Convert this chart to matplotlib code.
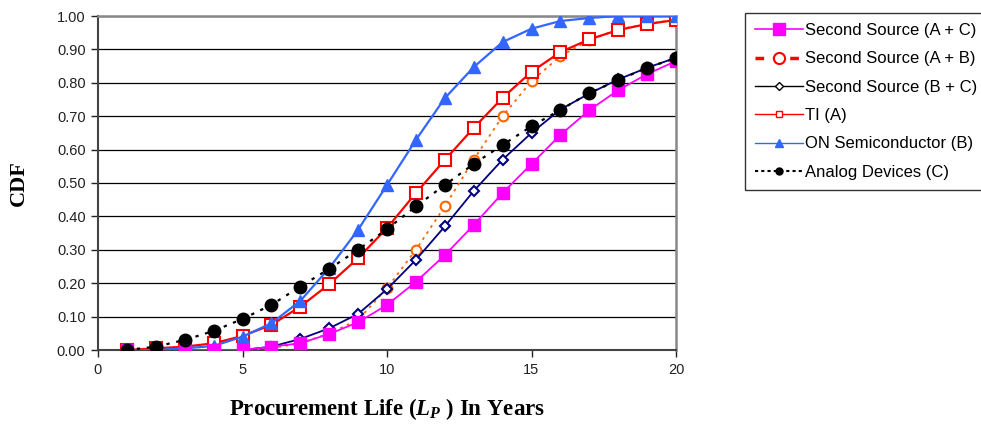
import matplotlib
matplotlib.use("Agg")
import matplotlib.pyplot as plt
from matplotlib.lines import Line2D
from matplotlib.ticker import FormatStrFormatter

plt.rcParams['font.family'] = ['Liberation Sans', 'DejaVu Sans']
plt.rcParams['mathtext.fontset'] = 'custom'
plt.rcParams['mathtext.it'] = 'Liberation Serif:bold:italic'
plt.rcParams['mathtext.rm'] = 'Liberation Serif:bold'

years = list(range(1, 21))
ss_ac = [0, 0, 0, 0, 0, 0.01, 0.02, 0.048, 0.083, 0.135, 0.204, 0.284, 0.374, 0.47, 0.557, 0.644, 0.718, 0.778, 0.826, 0.865]
ss_ab = [0, 0, 0, 0, 0, 0.005, 0.02, 0.05, 0.09, 0.185, 0.30, 0.43, 0.57, 0.70, 0.805, 0.88, 0.928, 0.96, 0.976, 0.99]
ss_bc = [0, 0, 0, 0, 0, 0.01, 0.033, 0.065, 0.108, 0.182, 0.27, 0.37, 0.476, 0.57, 0.65, 0.72, 0.768, 0.81, 0.845, 0.875]
ti_a = [0, 0.005, 0.01, 0.02, 0.042, 0.075, 0.13, 0.197, 0.275, 0.365, 0.47, 0.569, 0.665, 0.755, 0.833, 0.892, 0.93, 0.958, 0.976, 0.988]
on_b = [0, 0, 0.005, 0.012, 0.04, 0.08, 0.147, 0.245, 0.36, 0.494, 0.629, 0.754, 0.847, 0.922, 0.962, 0.985, 0.994, 1.0, 1.0, 1.0]
ad_c = [0, 0.01, 0.03, 0.057, 0.093, 0.135, 0.19, 0.243, 0.30, 0.362, 0.43, 0.494, 0.557, 0.614, 0.67, 0.719, 0.769, 0.808, 0.845, 0.874]

labels = ["Second Source (A + C)", "Second Source (A + B)", "Second Source (B + C)",
          "TI (A)", "ON Semiconductor (B)", "Analog Devices (C)"]
xticks = [0, 5, 10, 15, 20]
yticks = [0.0, 0.1, 0.2, 0.3, 0.4, 0.5, 0.6, 0.7, 0.8, 0.9, 1.0]

fig = plt.figure(figsize=(9.81, 4.28), dpi=100)
ax = fig.add_axes([98/981, 1-350/428, (676-98)/981, (350-16)/428])

ax.plot(years, ss_ab, color='#FF6600', ls=(0, (1.5, 2.5)), lw=1.3, marker='o', ms=7,
        mfc='white', mec='#FF6600', mew=1.5, zorder=3)
ax.plot(years, ti_a, color='#FF0000', lw=1.6, marker='s', ms=8, mfc='white',
        mec='#FF0000', mew=1.5, zorder=4)
ax.plot(years, on_b, color='#3366FF', lw=1.6, marker='^', ms=8, mfc='#3366FF',
        mec='#3366FF', zorder=5)
ax.plot(years, ss_bc, color='#000080', lw=1.3, marker='D', ms=5, mfc='white',
        mec='#000080', mew=1.5, zorder=6)
ax.plot(years, ss_ac, color='#FF00FF', lw=1.3, marker='s', ms=8, mfc='#FF00FF',
        mec='#FF00FF', zorder=7)
ax.plot(years, ad_c, color='black', ls=(0, (1.5, 3)), lw=1.6, marker='o', ms=9,
        mfc='black', mec='black', zorder=8)

ax.set_xlim(0, 20)
ax.set_ylim(0, 1.0)
ax.set_xticks(xticks)
ax.set_yticks(yticks)
ax.yaxis.set_major_formatter(FormatStrFormatter('%.2f'))
ax.yaxis.grid(True, color='black', lw=0.9)
ax.set_axisbelow(True)
ax.tick_params(axis='both', direction='out', length=5, width=1, labelsize=10.5,
               colors='#222222', pad=4)
ax.tick_params(axis='x', pad=4)
for s in ['top', 'right']:
    ax.spines[s].set_color('#888888')
    ax.spines[s].set_linewidth(1.8)
for s in ['left', 'bottom']:
    ax.spines[s].set_color('#444444')
    ax.spines[s].set_linewidth(1.5)

ax.set_xlabel(r'Procurement Life ($L_P$ ) In Years', fontsize=16.5, fontweight='bold',
              family='Liberation Serif', labelpad=14)
ax.set_ylabel('CDF', fontsize=16, fontweight='bold', family='Liberation Serif', labelpad=20)

handles = [
    Line2D([], [], color='#FF00FF', lw=1.2, marker='s', ms=8, mfc='#FF00FF', mec='#FF00FF'),
    Line2D([], [], color='#FF0000', lw=2.5, ls=(0, (2.5, 2.5)), marker='o', ms=8, mfc='white', mec='#FF0000', mew=1.5),
    Line2D([], [], color='black', lw=1.0, marker='D', ms=4.5, mfc='white', mec='black', mew=1.0),
    Line2D([], [], color='#FF0000', lw=1.0, marker='s', ms=5, mfc='white', mec='#FF0000', mew=1.0),
    Line2D([], [], color='#3366FF', lw=1.0, marker='^', ms=6, mfc='#3366FF', mec='#3366FF'),
    Line2D([], [], color='black', lw=1.5, ls=(0, (1.5, 1.5)), marker='o', ms=5, mfc='black', mec='black'),
]
leg = fig.legend(handles, labels, loc='upper left', bbox_to_anchor=(745/981, 1-13/428),
                 fontsize=12, frameon=True, fancybox=False, edgecolor='black',
                 handlelength=2.9, labelspacing=0.8, borderpad=0.6, handletextpad=0.1,
                 borderaxespad=0)
leg.get_frame().set_linewidth(1.0)

fig.savefig('out.png', dpi=100)
